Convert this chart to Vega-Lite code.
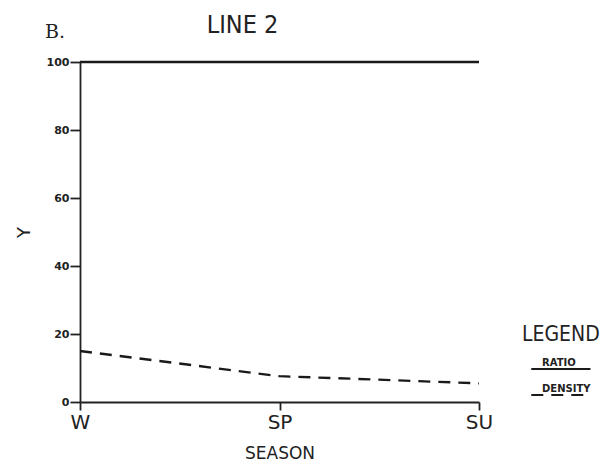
{
  "$schema": "https://vega.github.io/schema/vega-lite/v6.json",
  "width": 399,
  "height": 340,
  "autosize": {"type": "none"},
  "padding": {"left": 80, "top": 62, "right": 122, "bottom": 62},
  "background": "white",
  "config": {
    "view": {"stroke": null},
    "font": "DejaVu Sans"
  },
  "title": {
    "text": "LINE 2",
    "font": "DejaVu Sans Condensed",
    "fontSize": 25,
    "fontWeight": "normal",
    "color": "#222",
    "dx": -37,
    "offset": -15
  },
  "data": {
    "values": [
      {"season": "W", "series": "RATIO", "value": 100},
      {"season": "SP", "series": "RATIO", "value": 100},
      {"season": "SU", "series": "RATIO", "value": 100},
      {"season": "W", "series": "DENSITY", "value": 15},
      {"season": "SP", "series": "DENSITY", "value": 7.6},
      {"season": "SU", "series": "DENSITY", "value": 5.5}
    ]
  },
  "layer": [
    {
      "mark": {"type": "line", "color": "#1a1a1a", "strokeWidth": 2.3, "clip": false},
      "encoding": {
        "x": {
          "field": "season",
          "type": "ordinal",
          "sort": ["W", "SP", "SU"],
          "scale": {"type": "point", "padding": 0},
          "axis": {
            "title": "SEASON",
            "titleFont": "DejaVu Sans",
            "titleFontSize": 17,
            "titleFontWeight": "normal",
            "titleColor": "#222",
            "titlePadding": 13,
            "labelAngle": 0,
            "labelFontSize": 20,
            "labelColor": "#222",
            "labelPadding": 2,
            "domainColor": "#222",
            "domainWidth": 1.8,
            "tickColor": "#222",
            "tickWidth": 1.8,
            "tickSize": 8,
            "grid": false
          }
        },
        "y": {
          "field": "value",
          "type": "quantitative",
          "scale": {"domain": [0, 100]},
          "axis": {
            "title": "Y",
            "titleFontSize": 18,
            "titleFontWeight": "normal",
            "titleColor": "#222",
            "titlePadding": 13,
            "values": [0, 20, 40, 60, 80, 100],
            "labelFontSize": 11,
            "labelFontWeight": "bold",
            "labelColor": "#222",
            "labelPadding": 1,
            "domainColor": "#222",
            "domainWidth": 1.8,
            "tickColor": "#222",
            "tickWidth": 1.8,
            "tickSize": 10,
            "grid": false
          }
        },
        "strokeDash": {
          "field": "series",
          "type": "nominal",
          "scale": {"domain": ["RATIO", "DENSITY"], "range": [[1, 0], [12, 8]]},
          "legend": {
            "title": "LEGEND",
            "titleFont": "DejaVu Sans Condensed",
            "titleFontSize": 21,
            "titleFontWeight": "normal",
            "titleColor": "#222",
            "titlePadding": 12,
            "clipHeight": 24,
            "orient": "none",
            "legendX": 442,
            "legendY": 262,
            "symbolType": "stroke",
            "symbolSize": 5100,
            "symbolOffset": 8,
            "symbolStrokeWidth": 2,
            "symbolStrokeColor": "#1a1a1a",
            "labelOffset": -62,
            "labelBaseline": "line-bottom",
            "labelLineHeight": 15,
            "labelFontSize": 10,
            "labelFontWeight": "bold",
            "labelColor": "#222"
          }
        }
      }
    },
    {
      "data": {"values": [{"tag": "B."}]},
      "mark": {"type": "text", "font": "DejaVu Serif", "fontSize": 19, "color": "#222", "align": "left", "baseline": "alphabetic", "dx": -35, "dy": -24, "clip": false},
      "encoding": {
        "x": {"datum": "W"},
        "y": {"datum": 100},
        "text": {"field": "tag"}
      }
    }
  ]
}
